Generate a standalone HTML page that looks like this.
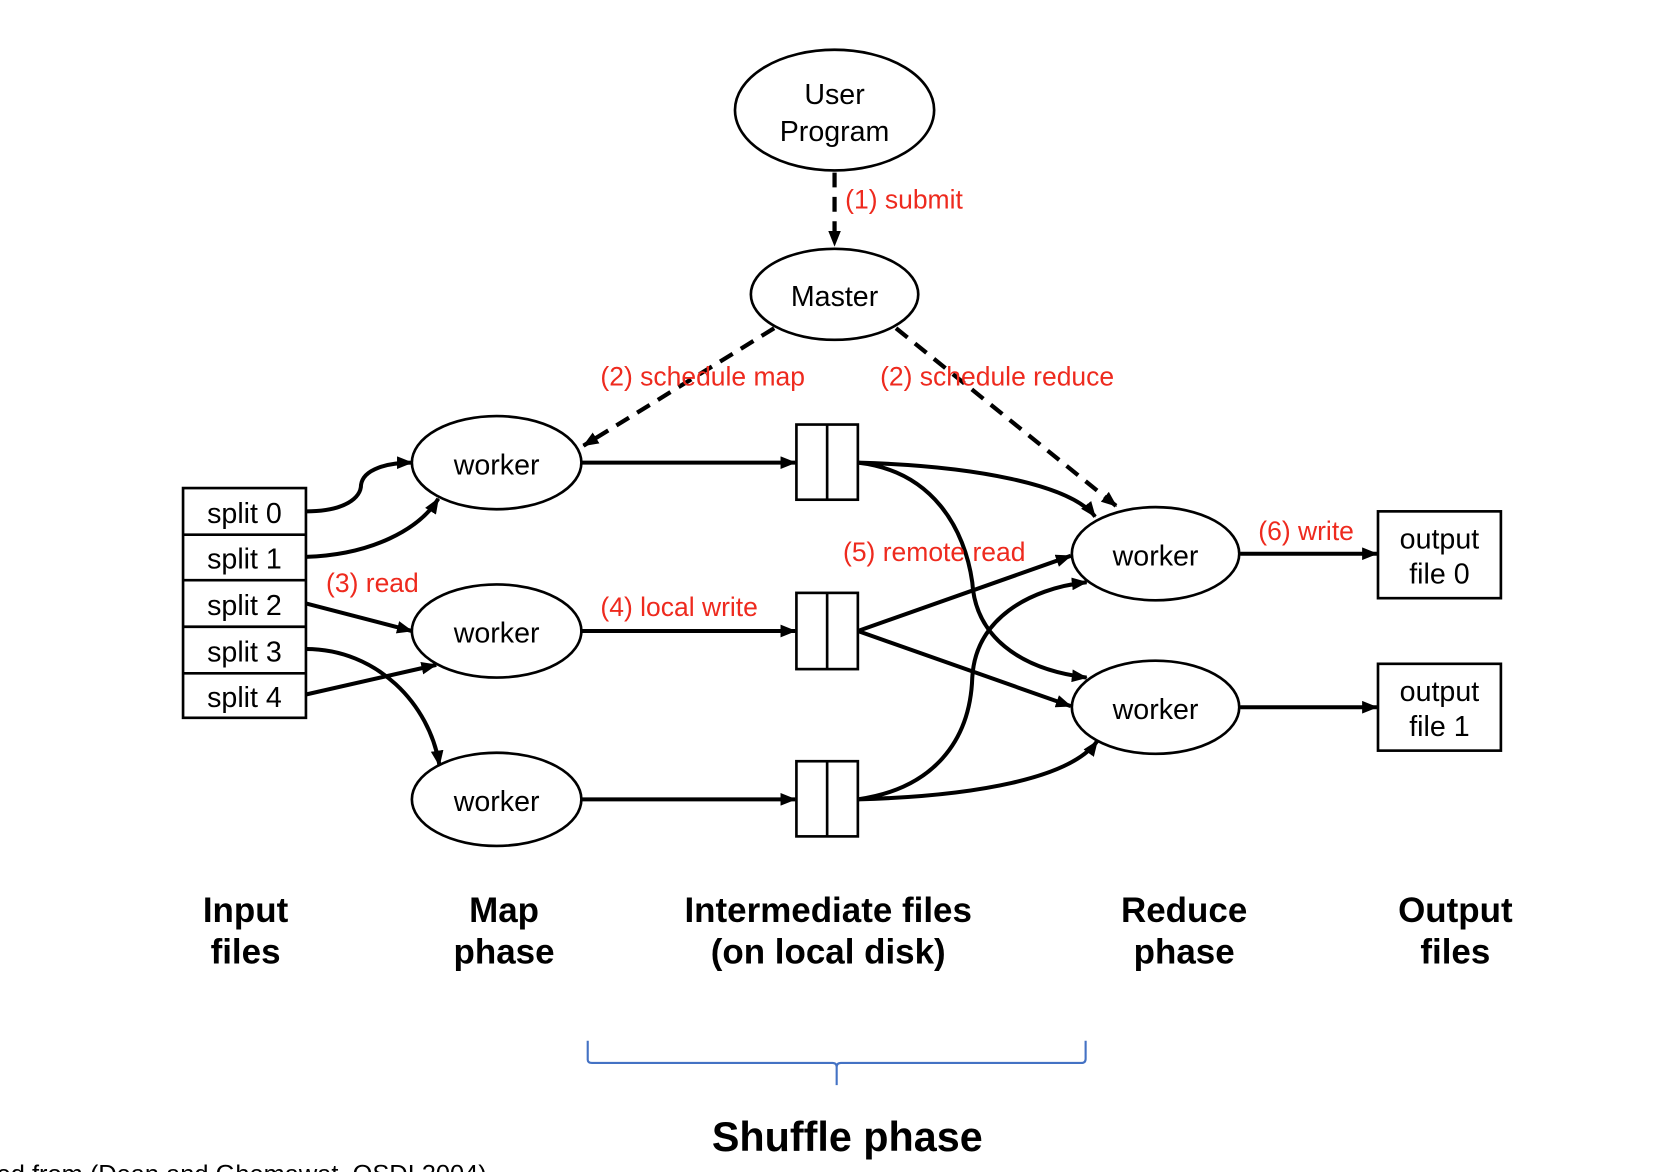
<!DOCTYPE html>
<html><head><meta charset="utf-8"><style>
html,body{margin:0;padding:0;background:#fff;}
svg{display:block;}
text{font-family:"Liberation Sans",Arial,sans-serif;}
</style></head><body>
<svg width="1660" height="1172" viewBox="-0.8 0 1567 1107" preserveAspectRatio="none" xmlns="http://www.w3.org/2000/svg">
<defs>
<marker id="b" viewBox="0 0 15 12" refX="14" refY="6" markerWidth="15" markerHeight="12" orient="auto" markerUnits="userSpaceOnUse">
<path d="M0,0 L15,6 L0,12 z" fill="#000"/>
</marker>
</defs>
<g fill="none" stroke="#000">
<ellipse cx="787" cy="104" rx="94" ry="57" stroke-width="2.5"/>
<ellipse cx="787" cy="278" rx="79" ry="43" stroke-width="2.5"/>
<ellipse cx="468" cy="437" rx="80" ry="44" stroke-width="2.5"/>
<ellipse cx="468" cy="596" rx="80" ry="44" stroke-width="2.5"/>
<ellipse cx="468" cy="755" rx="80" ry="44" stroke-width="2.5"/>
<ellipse cx="1090" cy="523" rx="79" ry="44" stroke-width="2.5"/>
<ellipse cx="1090" cy="668" rx="79" ry="44" stroke-width="2.5"/>
<rect x="172" y="461" width="116" height="217" stroke-width="2.5"/>
<path d="M172,505H288M172,548H288M172,592H288M172,636H288" stroke-width="2.5"/>
<rect x="751" y="401" width="58" height="71" stroke-width="2.5"/>
<path d="M780,401V472" stroke-width="2.5"/>
<rect x="751" y="560" width="58" height="72" stroke-width="2.5"/>
<path d="M780,560V632" stroke-width="2.5"/>
<rect x="751" y="719" width="58" height="71" stroke-width="2.5"/>
<path d="M780,719V790" stroke-width="2.5"/>
<rect x="1300" y="483" width="116" height="82" stroke-width="2.5"/>
<rect x="1300" y="627" width="116" height="82" stroke-width="2.5"/>

<g stroke-width="4" stroke-dasharray="14,9">
<path d="M787,163V232" marker-end="url(#b)"/>
<path d="M730,310L550,421" marker-end="url(#b)"/>
<path d="M845,310L1053,478" marker-end="url(#b)"/>
</g>
<g stroke-width="3.8">
<path d="M549,437H750" marker-end="url(#b)"/>
<path d="M549,596H750" marker-end="url(#b)"/>
<path d="M549,755H750" marker-end="url(#b)"/>
<path d="M1170,523H1299" marker-end="url(#b)"/>
<path d="M1170,668H1299" marker-end="url(#b)"/>
<path d="M288,483C325,483 340,470 340,458C342,443 365,437 388,437" marker-end="url(#b)"/>
<path d="M288,526C350,524 395,500 413,471" marker-end="url(#b)"/>
<path d="M288,570L388,596" marker-end="url(#b)"/>
<path d="M288,656L411,628" marker-end="url(#b)"/>
<path d="M288,613C355,613 405,665 414,723" marker-end="url(#b)"/>
<path d="M809,437C920,440 1010,458 1033,488" marker-end="url(#b)"/>
<path d="M809,437C880,445 910,500 917,550C920,600 960,632 1025,640" marker-end="url(#b)"/>
<path d="M809,596L1010,525" marker-end="url(#b)"/>
<path d="M809,596L1010,667" marker-end="url(#b)"/>
<path d="M809,755C880,745 915,700 917,640C920,585 970,556 1025,550" marker-end="url(#b)"/>
<path d="M809,755C920,752 1010,735 1035,700" marker-end="url(#b)"/>
</g>
<path d="M554,983V1001Q554,1004 558,1004H785Q789,1004 789,1008V1025M789,1008Q789,1004 793,1004H1020Q1024,1004 1024,1000V983" stroke="#4472c4" stroke-width="2"/>
</g>
<g font-size="27" fill="#000" text-anchor="middle">
<text x="787" y="98">User</text>
<text x="787" y="133">Program</text>
<text x="787" y="289">Master</text>
<text x="468" y="448">worker</text>
<text x="468" y="607">worker</text>
<text x="468" y="766">worker</text>
<text x="1090" y="534">worker</text>
<text x="1090" y="679">worker</text>
<text x="230" y="494">split 0</text>
<text x="230" y="537">split 1</text>
<text x="230" y="581">split 2</text>
<text x="230" y="625">split 3</text>
<text x="230" y="668">split 4</text>
<text x="1358" y="518">output</text>
<text x="1358" y="551">file 0</text>
<text x="1358" y="662">output</text>
<text x="1358" y="695">file 1</text>
</g>
<g font-size="25" fill="#ee2a1e">
<text x="797" y="197">(1) submit</text>
<text x="566" y="364">(2) schedule map</text>
<text x="830" y="364">(2) schedule reduce</text>
<text x="307" y="559">(3) read</text>
<text x="566" y="582">(4) local write</text>
<text x="795" y="530">(5) remote read</text>
<text x="1187" y="510">(6) write</text>
</g>
<g font-size="33" font-weight="bold" fill="#000" text-anchor="middle">
<text x="231" y="871">Input</text><text x="231" y="910">files</text>
<text x="475" y="871">Map</text><text x="475" y="910">phase</text>
<text x="781" y="871">Intermediate files</text><text x="781" y="910">(on local disk)</text>
<text x="1117" y="871">Reduce</text><text x="1117" y="910">phase</text>
<text x="1373" y="871">Output</text><text x="1373" y="910">files</text>
<text x="799" y="1087" font-size="39">Shuffle phase</text>
</g>
<text x="-4" y="1117" font-size="24" fill="#000">ed from (Dean and Ghemawat, OSDI 2004)</text>
</svg>
</body></html>
